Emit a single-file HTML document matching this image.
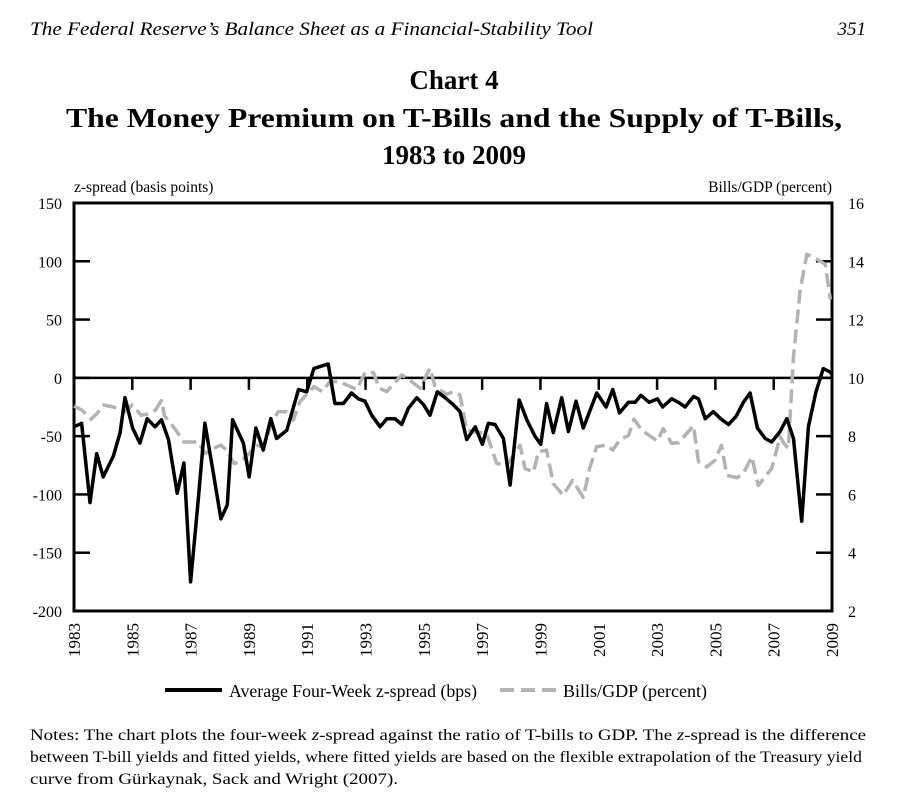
<!DOCTYPE html>
<html><head><meta charset="utf-8"><style>
html,body{margin:0;padding:0;background:#fff;}
svg{display:block;font-family:"Liberation Serif",serif;}
</style></head><body>
<svg id="chart" width="908" height="796" viewBox="0 0 908 796">
<text x="30" y="35" font-size="19" font-style="italic" textLength="563" lengthAdjust="spacingAndGlyphs">The Federal Reserve’s Balance Sheet as a Financial-Stability Tool</text>
<text x="866" y="35" font-size="19" font-style="italic" text-anchor="end">351</text>
<text x="454" y="89" font-size="27" font-weight="bold" text-anchor="middle">Chart 4</text>
<text x="454" y="127" font-size="27" font-weight="bold" text-anchor="middle" textLength="776" lengthAdjust="spacingAndGlyphs">The Money Premium on T-Bills and the Supply of T-Bills,</text>
<text x="454" y="164" font-size="27" font-weight="bold" text-anchor="middle">1983 to 2009</text>
<text x="74" y="192" font-size="15.5">z-spread (basis points)</text>
<text x="832" y="192" font-size="15.5" text-anchor="end">Bills/GDP (percent)</text>
<g id="axes"></g>
<g id="series"></g>
<line x1="165" y1="690" x2="222" y2="690" stroke="#000" stroke-width="4"/>
<text x="229" y="697" font-size="18" textLength="248" lengthAdjust="spacingAndGlyphs">Average Four-Week z-spread (bps)</text>
<line x1="500" y1="690" x2="557" y2="690" stroke="#b3b3b3" stroke-width="4" stroke-dasharray="14,7"/>
<text x="563" y="697" font-size="18" textLength="144" lengthAdjust="spacingAndGlyphs">Bills/GDP (percent)</text>
<g font-size="16">
<text x="30" y="740" textLength="836" lengthAdjust="spacingAndGlyphs">Notes: The chart plots the four-week <tspan font-style="italic">z</tspan>-spread against the ratio of T-bills to GDP. The <tspan font-style="italic">z</tspan>-spread is the difference</text>
<text x="30" y="762" textLength="832" lengthAdjust="spacingAndGlyphs">between T-bill yields and fitted yields, where fitted yields are based on the flexible extrapolation of the Treasury yield</text>
<text x="30" y="784" textLength="368" lengthAdjust="spacingAndGlyphs">curve from Gürkaynak, Sack and Wright (2007).</text>
</g>
</svg>
<script>
const zDates=[1983.0,1983.26,1983.55,1983.78,1984.0,1984.35,1984.58,1984.75,1985.01,1985.26,1985.51,1985.78,1986.0,1986.24,1986.54,1986.77,1987.0,1987.26,1987.49,1987.78,1988.04,1988.26,1988.44,1988.81,1989.01,1989.24,1989.49,1989.75,1989.95,1990.3,1990.7,1990.98,1991.23,1991.72,1991.95,1992.07,1992.24,1992.52,1992.75,1992.98,1993.21,1993.5,1993.73,1994.01,1994.24,1994.47,1994.76,1994.99,1995.21,1995.46,1995.73,1996.01,1996.24,1996.47,1996.76,1997.01,1997.21,1997.44,1997.73,1997.96,1998.27,1998.53,1998.81,1999.01,1999.21,1999.44,1999.73,1999.96,2000.22,2000.47,2000.93,2001.25,2001.48,2001.71,2002.02,2002.25,2002.44,2002.73,2003.01,2003.19,2003.5,2003.73,2003.96,2004.25,2004.42,2004.65,2004.93,2005.18,2005.45,2005.71,2005.96,2006.19,2006.44,2006.71,2006.93,2007.22,2007.45,2007.68,2007.96,2008.19,2008.45,2008.7,2008.93,2009.0];
const zValues=[-42,-39,-107,-65,-85,-67,-47,-17,-43,-56,-35,-42,-36,-53,-99,-73,-175,-105,-39,-82,-121,-109,-36,-56,-85,-43,-62,-35,-52,-45,-10,-12,8,12,-22,-22,-22,-13,-18,-20,-32,-42,-35,-35,-40,-26,-17,-23,-32,-12,-17,-23,-29,-53,-42,-57,-39,-40,-52,-92,-19,-36,-50,-57,-22,-47,-17,-46,-20,-43,-13,-25,-10,-30,-21,-21,-15,-21,-18,-25,-18,-21,-25,-16,-18,-35,-29,-35,-40,-33,-21,-13,-43,-52,-55,-46,-35,-52,-123,-42,-12,8,5,3];
const bDates=[1983.0,1983.26,1983.58,1983.78,1984.0,1984.35,1984.75,1985.0,1985.3,1985.55,1985.8,1986.0,1986.1,1986.5,1986.77,1987.26,1987.49,1987.78,1988.04,1988.23,1988.49,1988.7,1989.01,1989.24,1989.49,1989.78,1990.0,1990.3,1990.52,1990.75,1991.23,1991.51,1991.78,1992.1,1992.7,1992.98,1993.27,1993.47,1993.73,1994.24,1994.47,1994.87,1995.21,1995.39,1995.79,1996.01,1996.24,1996.47,1996.81,1997.15,1997.5,1997.84,1998.3,1998.47,1998.76,1998.93,1999.21,1999.44,1999.78,2000.1,2000.47,2000.7,2000.93,2001.25,2001.48,2001.71,2002.02,2002.21,2002.48,2003.01,2003.21,2003.5,2003.73,2004.25,2004.42,2004.7,2004.99,2005.21,2005.39,2005.73,2005.96,2006.25,2006.47,2006.7,2006.93,2007.22,2007.35,2007.5,2007.68,2007.91,2008.14,2008.48,2008.77,2008.94];
const bValues=[9.03,8.9,8.58,8.76,9.07,9.0,8.84,9.07,8.72,8.76,8.9,9.22,8.7,8.2,7.8,7.8,7.4,7.58,7.69,7.52,7.06,7.12,7.4,7.69,7.64,8.44,8.84,8.84,8.55,9.18,9.7,9.53,9.87,9.87,9.6,10.18,10.18,9.65,9.53,10.1,9.95,9.65,10.33,9.68,9.44,9.53,9.41,8.2,8.14,8.09,7.06,7.0,7.69,6.89,6.77,7.46,7.52,6.37,5.97,6.48,5.9,6.94,7.64,7.69,7.52,7.86,8.03,8.58,8.2,7.83,8.26,7.75,7.77,8.36,7.12,6.94,7.17,7.69,6.66,6.57,6.72,7.29,6.31,6.6,6.89,7.98,7.75,7.58,10.74,13.03,14.24,14.07,13.9,12.69];
const leftTicks=[150,100,50,0,-50,-100,-150,-200];
const rightTicks=[16,14,12,10,8,6,4,2];
const yearTicks=[1983,1985,1987,1989,1991,1993,1995,1997,1999,2001,2003,2005,2007,2009];

const L=74,R=832,T=203,B=611;
const xs=y=>L+(y-1983)/(2009-1983)*(R-L);
const yl=v=>B-(v+200)/350*(B-T);
const yr=v=>B-(v-2)/14*(B-T);
const NS='http://www.w3.org/2000/svg';
function mk(tag,attrs,parent){const e=document.createElementNS(NS,tag);for(const k in attrs)e.setAttribute(k,attrs[k]);parent.appendChild(e);return e;}
const ax=document.getElementById('axes');
const frame=mk('rect',{x:L,y:T,width:R-L,height:B-T,fill:'none',stroke:'#000','stroke-width':3},ax);


const zl=mk('line',{x1:L,x2:R,y1:yl(0),y2:yl(0),stroke:'#000','stroke-width':2.5},ax);


leftTicks.forEach(v=>{
  const y=yl(v);
  const tk=mk('line',{x1:L,x2:L+16,y1:y,y2:y,stroke:'#000','stroke-width':2.5},ax);
  
  
  const t=mk('text',{x:L-12,y:y+6,'font-size':16,'text-anchor':'end'},ax);
  t.textContent=v;
  
  
});
rightTicks.forEach(v=>{
  const y=yr(v);
  const tk=mk('line',{x1:R-16,x2:R,y1:y,y2:y,stroke:'#000','stroke-width':2.5},ax);
  
  
  const t=mk('text',{x:R+16,y:y+6,'font-size':16},ax);
  t.textContent=v;
  
  
});
yearTicks.forEach(yv=>{
  const x=xs(yv);
  const tk=mk('line',{x1:x,x2:x,y1:yl(0),y2:yl(0)+12,stroke:'#000','stroke-width':2.5},ax);
  
  
  const t=mk('text',{x:0,y:0,'font-size':17,'text-anchor':'end',transform:`translate(${x+6},${B+12}) rotate(-90)`},ax);
  t.textContent=yv;
  
  
});
const sg=document.getElementById('series');
const bp=mk('polyline',{points:bDates.map((d,i)=>xs(d).toFixed(1)+','+yr(bValues[i]).toFixed(1)).join(' '),fill:'none',stroke:'#b3b3b3','stroke-width':3.5,'stroke-dasharray':'14,6','stroke-linejoin':'round'},sg);


const zp=mk('polyline',{points:zDates.map((d,i)=>xs(d).toFixed(1)+','+yl(zValues[i]).toFixed(1)).join(' '),fill:'none',stroke:'#000','stroke-width':3.5,'stroke-linejoin':'round'},sg);


</script>
</body></html>
